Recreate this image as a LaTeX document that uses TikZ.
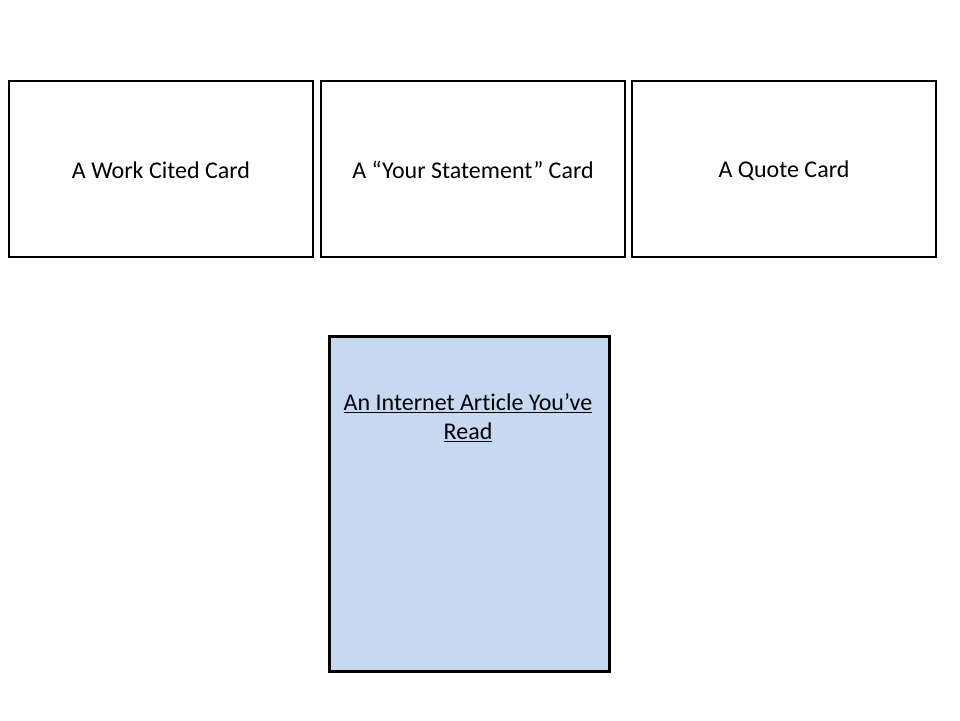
\documentclass[tikz,border=0pt]{standalone}
\usepackage{fontspec}
\setmainfont[Ligatures=NoCommon]{Carlito}
\definecolor{cardblue}{RGB}{198,217,241}
\begin{document}
\begin{tikzpicture}[x=1pt,y=-1pt,
  card/.style={draw=black,line width=1.8pt,fill=white},
  article/.style={draw=black,line width=3pt,fill=cardblue},
  lbl/.style={font=\fontsize{24}{29}\selectfont,inner sep=0pt}]
\useasboundingbox (0,0) rectangle (960,720);
\draw[card] (9,81) rectangle (313,257);
\node[lbl] (c1) at (161,170) {A Work Cited Card};
\draw[card] (321,81) rectangle (625,257);
\node[lbl] (c2) at (473,170) {A “Your Statement” Card};
\draw[card] (632,81) rectangle (936,257);
\node[lbl] (c3) at (784,171) {A Quote Card};
\draw[article] (329,336) rectangle (609,671);
\node[lbl,anchor=north,align=center,font=\fontsize{24}{29}\selectfont] (a) at (468,393) {\underline{An Internet Article You’ve}\\\underline{Read}};
\end{tikzpicture}
\end{document}
